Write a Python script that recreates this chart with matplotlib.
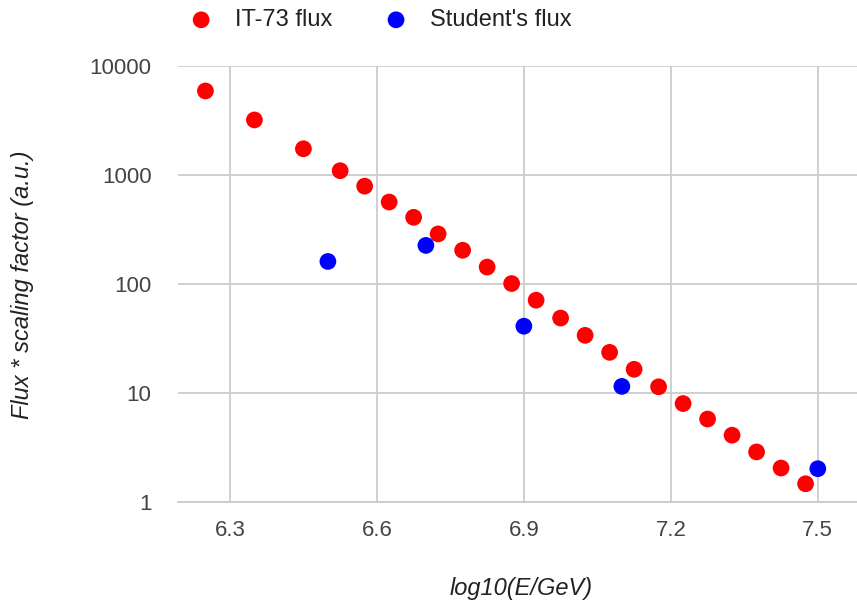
import matplotlib
matplotlib.use("Agg")
import matplotlib.pyplot as plt

# IT-73 reference flux
it73_logE = [6.25, 6.35, 6.45, 6.525, 6.575, 6.625, 6.675, 6.725, 6.775, 6.825,
             6.875, 6.925, 6.975, 7.025, 7.075, 7.125, 7.175, 7.225, 7.275, 7.325,
             7.375, 7.425, 7.475]
it73_flux = [5900, 3200, 1740, 1095, 790, 565, 409, 288, 204, 143,
             101, 71, 48.7, 33.8, 23.6, 16.5, 11.4, 8.0, 5.77, 4.1,
             2.88, 2.05, 1.47]

# student's measurement
student_logE = [6.5, 6.7, 6.9, 7.1, 7.5]
student_flux = [161, 226, 41, 11.5, 2.02]

yticks = [1, 10, 100, 1000, 10000]
xticks = [6.3, 6.6, 6.9, 7.2, 7.5]

plt.rcParams['font.family'] = ['Liberation Sans', 'DejaVu Sans']

fig = plt.figure(figsize=(8.57, 6.06), dpi=100)
ax = fig.add_axes([178 / 857, 104 / 606, 679 / 857, 436 / 606])

ax.scatter(it73_logE, it73_flux, s=145, color='#ff0000', label='IT-73 flux',
           zorder=3, edgecolors='none')
ax.scatter(student_logE, student_flux, s=145, color='#0000ff', label="Student's flux",
           zorder=4, edgecolors='none')

ax.set_yscale('log')
ax.set_xlim(6.194, 7.58)
ax.set_ylim(1, 10000)
ax.set_yticks(yticks)
ax.set_yticklabels([str(v) for v in yticks])
ax.minorticks_off()
ax.set_xticks(xticks)
ax.set_xticklabels([f'{v:.1f}' for v in xticks])

ax.grid(True, color='#cccccc', linewidth=1.3)
ax.set_axisbelow(True)
for s in ['top', 'right', 'left']:
    ax.spines[s].set_visible(False)
ax.spines['bottom'].set_color('#cccccc')
ax.spines['bottom'].set_linewidth(1.3)
ax.tick_params(length=0, labelsize=16, colors='#444444')
ax.tick_params(axis='y', pad=19)
ax.tick_params(axis='x', pad=13)

fig.text(23 / 857, 1 - 285 / 606, 'Flux * scaling factor (a.u.)', rotation=90,
         ha='center', va='center', style='italic', fontsize=17, color='#222222')
fig.text(521 / 857, 1 - 588 / 606, 'log10(E/GeV)', ha='center', va='center',
         style='italic', fontsize=17, color='#222222')

fig.legend(loc='center left', bbox_to_anchor=(187 / 857, 1 - 20 / 606), ncol=2,
           frameon=False, fontsize=17, handlelength=1.2, handletextpad=0.85,
           columnspacing=2.08, borderaxespad=0, borderpad=0, labelcolor='#222222')

fig.savefig('out.png', dpi=100)
